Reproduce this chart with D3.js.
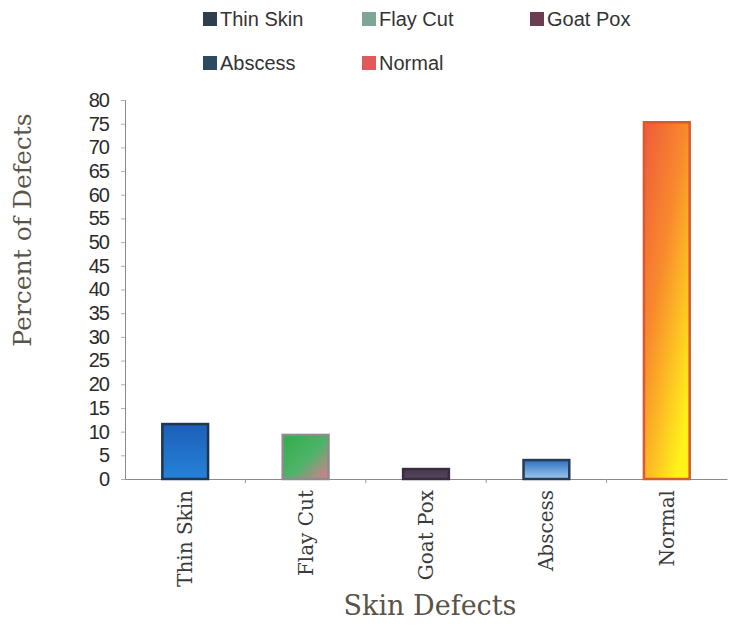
<!DOCTYPE html>
<html>
<head>
<meta charset="utf-8">
<script src="https://cdn.jsdelivr.net/npm/d3@7"></script>
<style>
  body { margin: 0; background: #fff; }
  svg { display: block; }
</style>
</head>
<body>
<div id="chart"></div>
<script>
// data
const categories = ['Thin Skin', 'Flay Cut', 'Goat Pox', 'Abscess', 'Normal'];
const values = [11.6, 9.3, 2.1, 4.0, 75.3];
const yTicks = [0, 5, 10, 15, 20, 25, 30, 35, 40, 45, 50, 55, 60, 65, 70, 75, 80];

const width = 738, height = 628;
const margin = { top: 100, right: 10, bottom: 149, left: 125 };

const svg = d3.select('#chart').append('svg')
  .attr('width', width)
  .attr('height', height);

const defs = svg.append('defs');
// gradients per bar
const grads = [
  { id: 'g0', x2: '0%', y2: '100%', stops: [['0%', '#1d5fb8'], ['100%', '#2582d8']] },
  { id: 'g1', x2: '100%', y2: '100%', stops: [['0%', '#2fae4a'], ['55%', '#4fb36a'], ['100%', '#e3788f']] },
  { id: 'g2', x2: '0%', y2: '100%', stops: [['0%', '#47384e'], ['100%', '#54465c']] },
  { id: 'g3', x2: '0%', y2: '100%', stops: [['0%', '#2f6fc0'], ['100%', '#9cc9ee']] },
  { id: 'g4', x2: '70%', y2: '100%', stops: [['0%', '#ef5a3c'], ['45%', '#f88a2c'], ['100%', '#fff21a']] }
];
grads.forEach(g => {
  const lg = defs.append('linearGradient').attr('id', g.id)
    .attr('x1', '0%').attr('y1', '0%').attr('x2', g.x2).attr('y2', g.y2);
  g.stops.forEach(s => lg.append('stop').attr('offset', s[0]).attr('stop-color', s[1]));
});
const strokes = ['#1f3550', '#8c8c8c', '#3a2c40', '#2a3a52', '#d85a2e'];
const legendColors = ['#2d3e4c', '#7fa596', '#6a3e52', '#2e4a5e', '#e05a5a'];

const x = d3.scaleBand()
  .domain(categories)
  .range([margin.left, 727])
  .paddingInner(0.62)
  .paddingOuter(0.31);

const y = d3.scaleLinear()
  .domain([0, 80])
  .range([479, 100]);

// y axis
const yAxis = svg.append('g')
  .attr('transform', `translate(${margin.left},0)`)
  .call(d3.axisLeft(y).tickValues(yTicks).tickSize(4).tickPadding(12));
yAxis.select('.domain').attr('stroke', '#8a8a8a');
yAxis.selectAll('.tick line').attr('stroke', '#b0b0b0');
yAxis.selectAll('.tick text')
  .attr('font-family', '"Liberation Sans", Arial, sans-serif')
  .attr('font-size', 20)
  .attr('letter-spacing', -1)
  .attr('fill', '#2b2b2b');

// x axis
const xAxis = svg.append('g')
  .attr('transform', `translate(0,${y(0)})`)
  .call(d3.axisBottom(x).tickSize(0).tickPadding(0));
xAxis.select('.domain').attr('stroke', '#8a8a8a');
xAxis.selectAll('.tick text')
  .attr('transform', 'rotate(-90)')
  .attr('text-anchor', 'end')
  .attr('x', -11)
  .attr('y', 0)
  .attr('dy', '0.35em')
  .attr('font-family', '"DejaVu Serif", serif')
  .attr('font-size', 20)
  .attr('fill', '#3a3a3a');

// small ticks at band boundaries
svg.append('g').selectAll('line')
  .data(categories.slice(1))
  .join('line')
  .attr('x1', d => x(d) - x.step() * x.paddingInner() / 2)
  .attr('x2', d => x(d) - x.step() * x.paddingInner() / 2)
  .attr('y1', y(0))
  .attr('y2', y(0) + 4)
  .attr('stroke', '#9a9a9a');

// bars
svg.append('g').selectAll('rect')
  .data(categories)
  .join('rect')
  .attr('x', d => x(d))
  .attr('y', (d, i) => y(values[i]))
  .attr('width', x.bandwidth())
  .attr('height', (d, i) => y(0) - y(values[i]))
  .attr('fill', (d, i) => `url(#g${i})`)
  .attr('stroke', (d, i) => strokes[i])
  .attr('stroke-width', 2.5);

// axis titles
svg.append('text')
  .attr('transform', 'rotate(-90)')
  .attr('x', -230)
  .attr('y', 31)
  .attr('text-anchor', 'middle')
  .attr('font-family', '"DejaVu Serif", serif')
  .attr('font-size', 25)
  .attr('fill', '#5a5448')
  .text('Percent of Defects');

svg.append('text')
  .attr('x', 430)
  .attr('y', 615)
  .attr('text-anchor', 'middle')
  .attr('font-family', '"DejaVu Serif", serif')
  .attr('font-size', 27)
  .attr('fill', '#5a5448')
  .text('Skin Defects');

// legend
const legendPos = [[203, 19], [362, 19], [530, 19], [203, 63], [362, 63]];
const legend = svg.append('g').selectAll('g')
  .data(categories)
  .join('g')
  .attr('transform', (d, i) => `translate(${legendPos[i][0]},${legendPos[i][1]})`);
legend.append('rect')
  .attr('x', 0).attr('y', -7)
  .attr('width', 14).attr('height', 14)
  .attr('fill', (d, i) => legendColors[i]);
legend.append('text')
  .attr('x', 17)
  .attr('dy', '0.35em')
  .attr('font-family', '"Liberation Sans", Arial, sans-serif')
  .attr('font-size', 20)
  .attr('fill', '#333')
  .text(d => d);
</script>
</body>
</html>
